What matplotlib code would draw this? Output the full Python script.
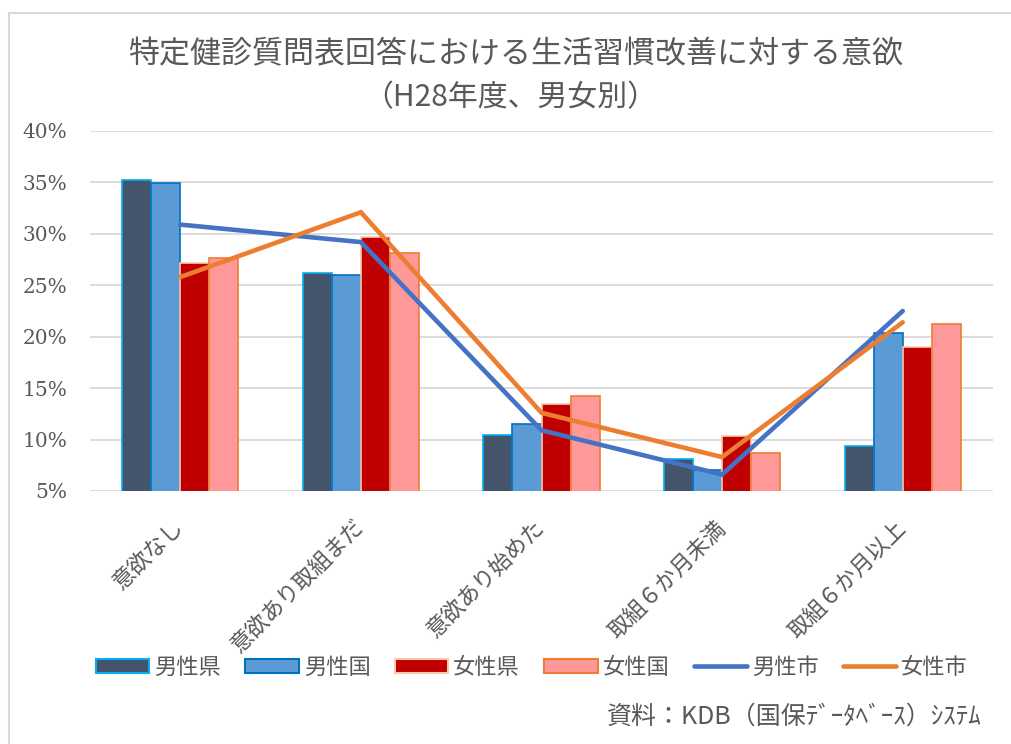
import numpy as np
import matplotlib
matplotlib.use("Agg")
import matplotlib.pyplot as plt
from matplotlib.patches import Patch, Rectangle
from matplotlib.lines import Line2D
from matplotlib.ticker import PercentFormatter

plt.rcParams['font.family'] = ['Noto Sans CJK JP', 'DejaVu Sans']

# data (percent)
categories = ['意欲なし', '意欲あり取組まだ', '意欲あり始めた', '取組６か月未満', '取組６か月以上']
male_pref = [35.2, 26.2, 10.4, 8.1, 9.4]
male_nat = [34.9, 26.0, 11.5, 7.0, 20.4]
female_pref = [27.2, 29.7, 13.5, 10.3, 19.0]
female_nat = [27.7, 28.1, 14.2, 8.7, 21.2]
male_city = [30.9, 29.2, 10.9, 6.6, 22.5]
female_city = [25.8, 32.1, 12.6, 8.3, 21.4]

bar_names = ['男性県', '男性国', '女性県', '女性国']
bar_series = [male_pref, male_nat, female_pref, female_nat]
bar_faces = ['#44546A', '#5B9BD5', '#C00000', '#FF9999']
bar_edges = ['#00B0F0', '#0070C0', '#F8CBAD', '#ED7D31']
line_names = ['男性市', '女性市']
line_series = [male_city, female_city]
line_colors = ['#4472C4', '#ED7D31']

W, H = 1011, 744
fig = plt.figure(figsize=(W / 100, H / 100), dpi=100)
ax = fig.add_axes([90 / W, (H - 491) / H, (993 - 90) / W, (491 - 131) / H])

x = np.arange(len(categories))
w = 0.161
for i, (vals, fc, ec) in enumerate(zip(bar_series, bar_faces, bar_edges)):
    ax.bar(x + (i - 1.5) * w, vals, w, color=fc, edgecolor=ec, linewidth=1.2, zorder=3)

for vals, c in zip(line_series, line_colors):
    ax.plot(x, vals, color=c, lw=3.3, solid_capstyle='round', solid_joinstyle='miter', zorder=4)

ax.set_xlim(-0.5, len(categories) - 0.5)
ax.set_ylim(5, 40)
ax.set_yticks(np.arange(5, 41, 5))
ax.yaxis.set_major_formatter(PercentFormatter(decimals=0))
ax.grid(axis='y', color='#D9D9D9', lw=1.3, zorder=0)
ax.set_axisbelow(True)
for s in ax.spines.values():
    s.set_visible(False)
ax.tick_params(axis='both', length=0)
ax.tick_params(axis='y', labelsize=14.5, labelcolor='#595959', pad=16.5)
for lab in ax.get_yticklabels():
    lab.set_family('DejaVu Serif')

ax.set_xticks(x)
ax.set_xticklabels(categories, rotation=45, ha='right', va='center',
                   rotation_mode='anchor', fontsize=16, color='#595959')
ax.tick_params(axis='x', pad=24)

# title
fig.text(516 / W, 1 - 55 / H, '特定健診質問表回答における生活習慣改善に対する意欲',
         ha='center', va='center', fontsize=22.3, color='#595959')
fig.text(510 / W, 1 - 98 / H, '（H28年度、男女別）',
         ha='center', va='center', fontsize=21.5, color='#595959')

# legend
handles = [Patch(facecolor=fc, edgecolor=ec, linewidth=1.5) for fc, ec in zip(bar_faces, bar_edges)]
handles += [Line2D([0], [0], color=c, lw=3.3, solid_capstyle='round') for c in line_colors]
fig.legend(handles, bar_names + line_names, loc='center', bbox_to_anchor=(532 / W, 1 - 667 / H),
           ncol=6, frameon=False, fontsize=16, handlelength=2.4, handleheight=0.6,
           handletextpad=0.22, columnspacing=1.1, labelcolor='#595959')

# source note
fig.text(607 / W, 1 - 717 / H, '資料：KDB（国保ﾃﾞｰﾀﾍﾞｰｽ）ｼｽﾃﾑ',
         ha='left', va='center', fontsize=18, color='#595959')

# chart frame
fig.patches.append(Rectangle((8.5 / W, -0.1), 1.2, 1 - 13 / H + 0.1, transform=fig.transFigure,
                             fill=False, edgecolor='#D9D9D9', lw=1.5))

fig.savefig('out.png', dpi=100)
